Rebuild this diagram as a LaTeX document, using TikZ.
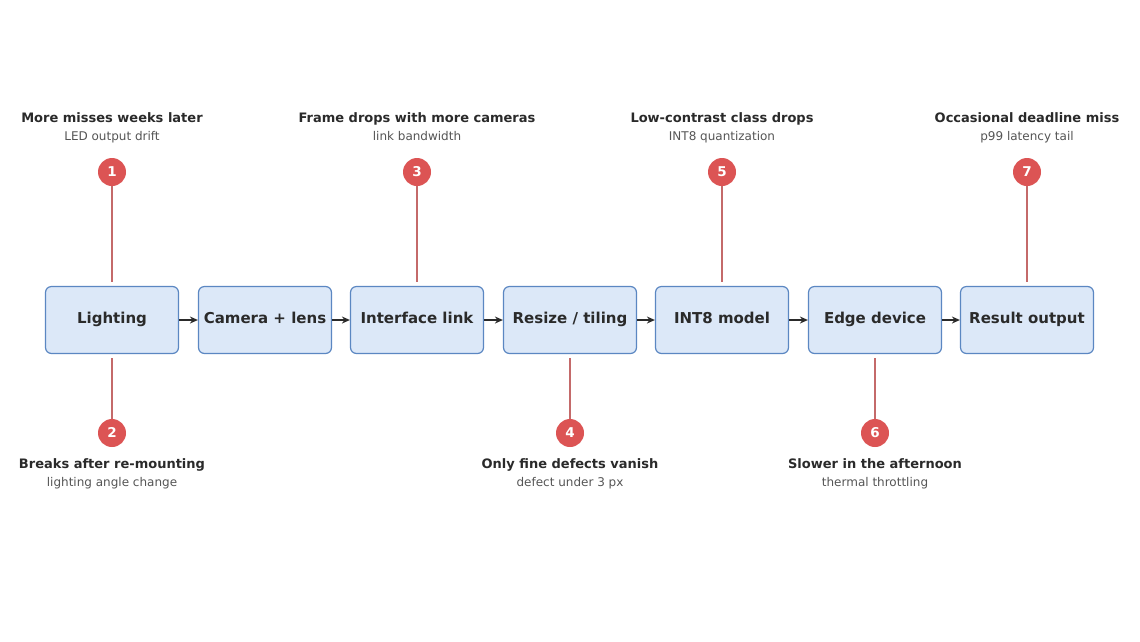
\documentclass[tikz,border=0pt]{standalone}
\usepackage{fontspec}
\setmainfont{DejaVu Sans}
\usetikzlibrary{arrows.meta}
\definecolor{boxfill}{HTML}{DCE8F8}
\definecolor{boxline}{HTML}{5B87C2}
\definecolor{mark}{HTML}{DC5454}
\definecolor{stem}{HTML}{C46A6A}
\definecolor{txt}{HTML}{2A2A2A}
\definecolor{sub}{HTML}{555555}
\begin{document}
\begin{tikzpicture}[x=1pt,y=-1pt,
  box/.style={draw=boxline,fill=boxfill,line width=1.2pt,rounded corners=6pt,minimum width=133pt,minimum height=67pt,inner sep=0pt,text height=10.5pt,text depth=3pt,font=\fontsize{15}{17}\selectfont\bfseries,text=txt},
  num/.style={circle,fill=mark,minimum size=28pt,inner sep=0pt,text height=9.5pt,text depth=0pt,font=\fontsize{13.5}{15}\selectfont\bfseries,text=white},
  ttl/.style={font=\fontsize{13}{15}\selectfont\bfseries,text=txt,inner sep=0pt,anchor=base},
  sbt/.style={font=\fontsize{12}{14}\selectfont,text=sub,inner sep=0pt,anchor=base},
  stemline/.style={draw=stem,line width=1.2pt,shorten >=4pt},
  flow/.style={draw=txt,line width=1.3pt,-{Stealth[length=8pt,width=7pt]}}]
\useasboundingbox[fill=white] (0,0) rectangle (1140,641);
\foreach \i/\x/\t in {1/112/Lighting,2/265/Camera + lens,3/417/Interface link,4/570/{Resize / tiling},5/722/INT8 model,6/875/Edge device,7/1027/Result output}
  \node[box] (b\i) at (\x,320) {\t};
\foreach \a/\b in {1/2,2/3,3/4,4/5,5/6,6/7}
  \draw[flow] (b\a) -- (b\b);
\foreach \n/\b/\x/\t/\s in {1/1/112/More misses weeks later/LED output drift,3/3/417/Frame drops with more cameras/link bandwidth,5/5/722/Low-contrast class drops/INT8 quantization,7/7/1027/Occasional deadline miss/p99 latency tail}{
  \node[num] (m\n) at (\x,172) {\n};
  \draw[stemline] (m\n) -- (b\b);
  \node[ttl] (t\n) at (\x,122) {\t};
  \node[sbt] (s\n) at (\x,140.5) {\s};
}
\foreach \n/\b/\x/\t/\s in {2/1/112/Breaks after re-mounting/lighting angle change,4/4/570/Only fine defects vanish/defect under 3 px,6/6/875/Slower in the afternoon/thermal throttling}{
  \node[num] (m\n) at (\x,433) {\n};
  \draw[stemline] (m\n) -- (b\b);
  \node[ttl] (t\n) at (\x,468) {\t};
  \node[sbt] (s\n) at (\x,486.5) {\s};
}
\end{tikzpicture}
\end{document}
